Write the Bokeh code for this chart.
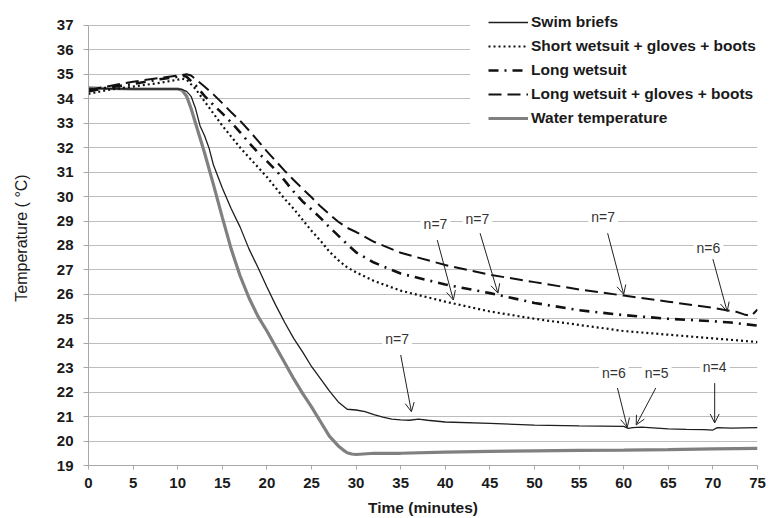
from bokeh.plotting import figure
from bokeh.models import (Legend, LegendItem, Label, Arrow, OpenHead,
                          BoxAnnotation, FixedTicker, Range1d)
from bokeh.embed import file_html
from bokeh.resources import INLINE

# ---------------- data ----------------
series_names = ["Swim briefs", "Short wetsuit + gloves + boots", "Long wetsuit",
                "Long wetsuit + gloves + boots", "Water temperature"]

time_briefs = [0, 5, 10, 10.5, 11, 11.5, 12, 12.5, 13, 13.5, 14, 15, 16, 17, 18, 19, 20,
               21, 22, 23, 24, 25, 26, 27, 28, 29, 30, 31, 32, 33, 34, 35, 36, 37, 38,
               40, 45, 50, 55, 60, 60.5, 61, 62, 65, 67, 69, 70, 70.5, 72, 75]
temp_briefs = [34.42, 34.4, 34.4, 34.38, 34.3, 34.1, 33.6, 32.9, 32.5, 32.0, 31.3, 30.35,
               29.5, 28.75, 27.85, 27.1, 26.3, 25.55, 24.85, 24.2, 23.65, 23.05, 22.55,
               22.05, 21.6, 21.3, 21.27, 21.2, 21.08, 20.98, 20.9, 20.87, 20.85, 20.9,
               20.85, 20.78, 20.72, 20.65, 20.62, 20.6, 20.52, 20.55, 20.57, 20.5, 20.48,
               20.47, 20.45, 20.55, 20.53, 20.55]

time_short = [0, 2, 5, 8, 10, 10.5, 11, 12, 13, 14, 15, 16, 17, 18, 19, 20, 21, 22, 23,
              24, 25, 26, 27, 28, 29, 30, 32, 35, 40, 45, 50, 55, 60, 65, 70, 75]
temp_short = [34.2, 34.35, 34.5, 34.65, 34.78, 34.82, 34.78, 34.4, 33.9, 33.4, 32.9,
              32.45, 32.0, 31.6, 31.2, 30.8, 30.35, 29.9, 29.5, 29.05, 28.6, 28.2, 27.75,
              27.4, 27.1, 26.9, 26.55, 26.15, 25.7, 25.3, 25.0, 24.75, 24.5, 24.35, 24.2,
              24.05]

time_long = [0, 2, 5, 8, 10, 10.5, 11, 12, 13, 14, 15, 16, 17, 18, 19, 20, 21, 22, 23,
             24, 25, 26, 27, 28, 29, 30, 32, 35, 40, 45, 50, 55, 60, 65, 70, 72, 75]
temp_long = [34.3, 34.45, 34.6, 34.8, 34.9, 34.95, 34.9, 34.55, 34.12, 33.75, 33.4,
             33.03, 32.63, 32.2, 31.8, 31.45, 31.08, 30.65, 30.2, 29.8, 29.47, 29.13,
             28.75, 28.4, 28.05, 27.72, 27.3, 26.85, 26.4, 26.05, 25.65, 25.35, 25.15,
             25.0, 24.9, 24.85, 24.72]

time_long_gb = [0, 2, 5, 8, 10, 11, 11.5, 12, 13, 14, 15, 16, 17, 18, 19, 20, 21, 22,
                23, 24, 25, 26, 27, 28, 29, 30, 32, 35, 40, 45, 50, 55, 60, 65, 70, 71.5,
                72.5, 73.5, 74.3, 75]
temp_long_gb = [34.35, 34.5, 34.7, 34.85, 34.95, 35.0, 34.95, 34.8, 34.5, 34.18, 33.82,
                33.45, 33.1, 32.7, 32.28, 31.85, 31.45, 31.05, 30.68, 30.32, 29.97, 29.6,
                29.28, 28.97, 28.72, 28.55, 28.15, 27.7, 27.2, 26.8, 26.5, 26.2, 25.95,
                25.7, 25.45, 25.35, 25.3, 25.18, 25.12, 25.38]

time_water = [0, 2, 5, 8, 10, 10.5, 11, 11.5, 12, 13, 14, 15, 16, 17, 18, 19, 20, 21,
              22, 23, 24, 25, 26, 27, 28, 28.5, 29, 29.5, 30, 32, 35, 40, 45, 50, 55, 60,
              65, 70, 75]
temp_water = [34.45, 34.42, 34.4, 34.4, 34.4, 34.35, 34.1, 33.6, 33.0, 31.8, 30.5, 29.15,
              27.85, 26.75, 25.85, 25.1, 24.5, 23.85, 23.2, 22.55, 21.95, 21.4, 20.8,
              20.2, 19.8, 19.65, 19.52, 19.47, 19.45, 19.5, 19.5, 19.55, 19.58, 19.6,
              19.62, 19.63, 19.65, 19.68, 19.7]

y_ticks = list(range(19, 38))
x_ticks = list(range(0, 76, 5))

# sample-size annotations: text, label position, arrow start, arrow end
ann_text = ["n=7", "n=7", "n=7", "n=6", "n=7", "n=6", "n=5", "n=4"]
ann_pos = [(38.9, 28.87), (43.6, 29.07), (57.7, 29.16), (69.5, 27.9),
           (34.6, 24.17), (58.9, 22.78), (63.7, 22.78), (70.2, 23.03)]
ann_arrows = [((39.1, 28.22), (40.9, 25.77)), ((43.9, 28.5), (45.9, 26.05)),
              ((58.2, 28.5), (60.0, 26.0)), ((70.0, 27.44), (71.6, 25.3)),
              ((35.0, 23.52), (36.2, 21.2)), ((59.3, 22.17), (60.4, 20.56)),
              ((63.6, 22.17), (61.4, 20.66)), ((70.2, 22.37), (70.2, 20.74))]

# ---------------- figure ----------------
FONT = "Liberation Sans"
p = figure(width=769, height=518, output_backend="svg", toolbar_location=None,
           x_range=Range1d(0, 75), y_range=Range1d(19, 37.61),
           min_border_left=88, min_border_right=12, min_border_top=10,
           min_border_bottom=52)
p.outline_line_color = None
p.background_fill_color = "white"
p.xgrid.grid_line_color = None
p.ygrid.grid_line_color = "#bdbdbd"
p.ygrid.grid_line_width = 1.2

p.yaxis.ticker = FixedTicker(ticks=y_ticks)
p.xaxis.ticker = FixedTicker(ticks=x_ticks)
p.yaxis.bounds = (19, 37)
for ax in (p.xaxis, p.yaxis):
    ax.major_label_text_font = FONT
    ax.major_label_text_font_style = "bold"
    ax.major_label_text_font_size = "15px"
    ax.major_label_text_color = "#1a1a1a"
    ax.axis_label_text_font = FONT
    ax.axis_label_text_color = "#1a1a1a"
    ax.axis_line_color = "#a8a8a8"
    ax.major_tick_line_color = "#a8a8a8"
    ax.minor_tick_line_color = None
    ax.major_tick_in = 0

p.xaxis.axis_label = "Time (minutes)"
p.xaxis.axis_label_text_font_style = "bold"
p.xaxis.axis_label_text_font_size = "15.5px"
p.xaxis.major_tick_out = 4
p.xaxis.major_label_standoff = 8
p.xaxis.axis_label_standoff = 8
p.yaxis.axis_label = "Temperature ( °C)"
p.yaxis.axis_label_text_font_style = "normal"
p.yaxis.axis_label_text_font_size = "16px"
p.yaxis.major_tick_out = 5
p.yaxis.major_label_standoff = 10
p.yaxis.axis_label_standoff = 24

r_water = p.line(time_water, temp_water, line_color="#808080", line_width=3.2)
r_briefs = p.line(time_briefs, temp_briefs, line_color="#1e1e1e", line_width=1.3)
r_short = p.line(time_short, temp_short, line_color="#111111", line_width=2.2,
                 line_dash="2 3")
r_long = p.line(time_long, temp_long, line_color="#111111", line_width=2.6,
                line_dash="10 6 2 6")
r_long_gb = p.line(time_long_gb, temp_long_gb, line_color="#111111", line_width=2,
                   line_dash="13 6")

# white area behind legend (hides gridlines there)
p.add_layout(BoxAnnotation(left=42.8, bottom=32.5, fill_color="white", fill_alpha=1,
                           line_color=None))

for txt, (lx, ly), ((x0, y0), (x1, y1)) in zip(ann_text, ann_pos, ann_arrows):
    p.add_layout(Arrow(end=OpenHead(size=9, line_width=1, line_color="#222222"),
                       x_start=x0, y_start=y0, x_end=x1, y_end=y1,
                       line_width=1, line_color="#222222"))
    p.add_layout(Label(x=lx, y=ly, text=txt, text_align="center",
                       text_baseline="middle", text_font=FONT,
                       text_font_size="14px", text_color="#333333",
                       background_fill_color="white", padding=3))

legend = Legend(items=[LegendItem(label=n, renderers=[r]) for n, r in
                       zip(series_names, [r_briefs, r_short, r_long, r_long_gb, r_water])],
                location=(400, 337), padding=5, spacing=4, label_height=20,
                glyph_height=20, glyph_width=40, label_standoff=3,
                label_text_font=FONT, label_text_font_style="bold",
                label_text_font_size="15.5px", label_text_color="#1a1a1a",
                background_fill_color="white", background_fill_alpha=1,
                border_line_color=None, margin=0)
p.add_layout(legend, "center")

open("out.html", "w").write(file_html(p, INLINE))
